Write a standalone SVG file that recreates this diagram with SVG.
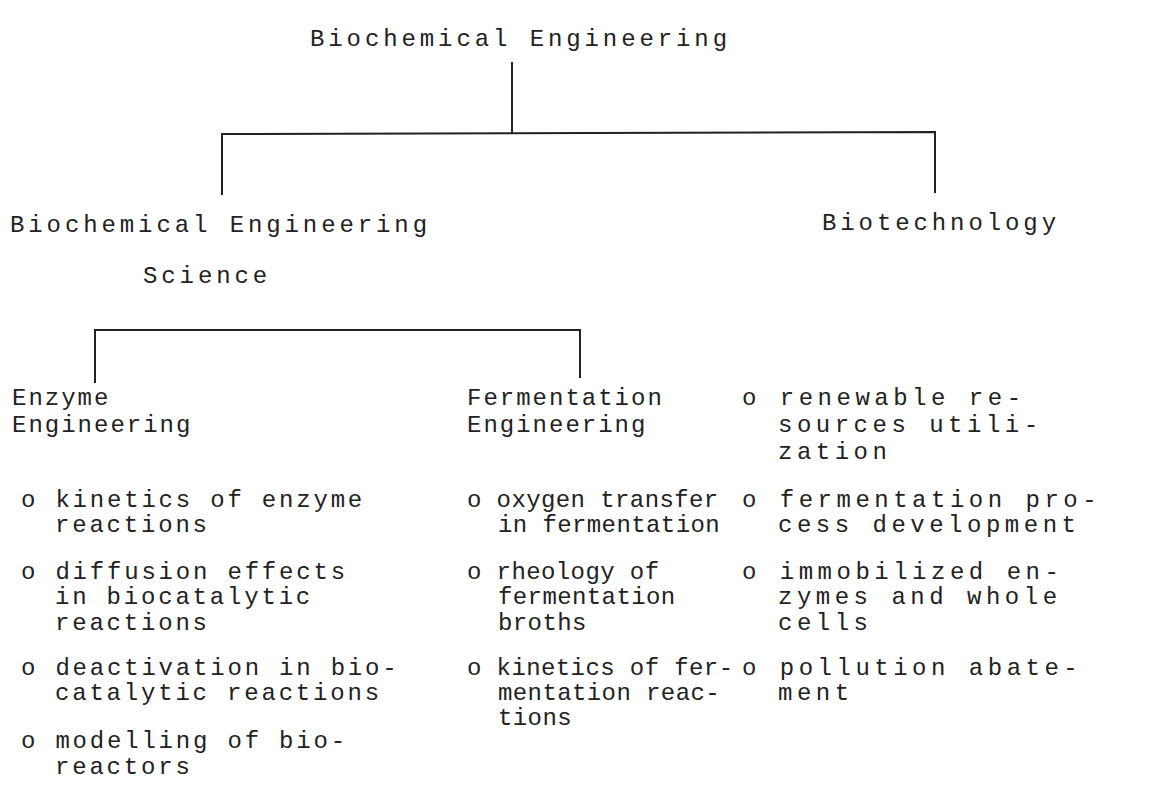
<svg xmlns="http://www.w3.org/2000/svg" width="1170" height="798" viewBox="0 0 1170 798">
<style>
text{font-family:"Liberation Mono","DejaVu Sans Mono",monospace;fill:#222;font-size:24px}
.up{letter-spacing:3.9px}
.hd{letter-spacing:2px}
.c1{letter-spacing:2.8px}
.c2{letter-spacing:0.4px}
.c3{letter-spacing:4.5px}
.c{stroke:#222;stroke-width:2;fill:none}
</style>
<rect width="1170" height="798" fill="#fff"/>
<g id="connectors">
<path class="c" d="M512 62V133"/>
<path class="c" d="M222 195V134L935 132V193"/>
<path class="c" d="M95 383V330H580V378"/>
</g>
<g id="biochemical-engineering"><text class="up" x="310" y="46">Biochemical Engineering</text></g>
<g id="biochemical-engineering-science">
<text class="up" x="10" y="232">Biochemical Engineering</text>
<text class="up" x="143" y="283">Science</text>
</g>
<g id="biotechnology">
<text class="up" x="822" y="230">Biotechnology</text>
<text class="c3" x="742" y="405">o renewable re-</text>
<text class="c3" x="778" y="432">sources utili-</text>
<text class="c3" x="778" y="459">zation</text>
<text class="c3" x="742" y="507">o fermentation pro-</text>
<text class="c3" x="778" y="532">cess development</text>
<text class="c3" x="742" y="579">o immobilized en-</text>
<text class="c3" x="778" y="604">zymes and whole</text>
<text class="c3" x="778" y="630">cells</text>
<text class="c3" x="742" y="675">o pollution abate-</text>
<text class="c3" x="778" y="700">ment</text>
</g>
<g id="enzyme-engineering">
<text class="hd" x="12" y="405">Enzyme</text>
<text class="hd" x="12" y="432">Engineering</text>
<text class="c1" x="21" y="507">o kinetics of enzyme</text>
<text class="c1" x="55" y="532">reactions</text>
<text class="c1" x="21" y="579">o diffusion effects</text>
<text class="c1" x="55" y="604">in biocatalytic</text>
<text class="c1" x="55" y="630">reactions</text>
<text class="c1" x="21" y="675">o deactivation in bio-</text>
<text class="c1" x="55" y="700">catalytic reactions</text>
<text class="c1" x="21" y="748">o modelling of bio-</text>
<text class="c1" x="55" y="774">reactors</text>
</g>
<g id="fermentation-engineering">
<text class="hd" x="467" y="405">Fermentation</text>
<text class="hd" x="467" y="432">Engineering</text>
<text class="c2" x="467" y="507">o oxygen transfer</text>
<text class="c2" x="498" y="532">in fermentation</text>
<text class="c2" x="467" y="579">o rheology of</text>
<text class="c2" x="498" y="604">fermentation</text>
<text class="c2" x="498" y="630">broths</text>
<text class="c2" x="467" y="675">o kinetics of fer-</text>
<text class="c2" x="498" y="700">mentation reac-</text>
<text class="c2" x="498" y="725">tions</text>
</g>
</svg>
